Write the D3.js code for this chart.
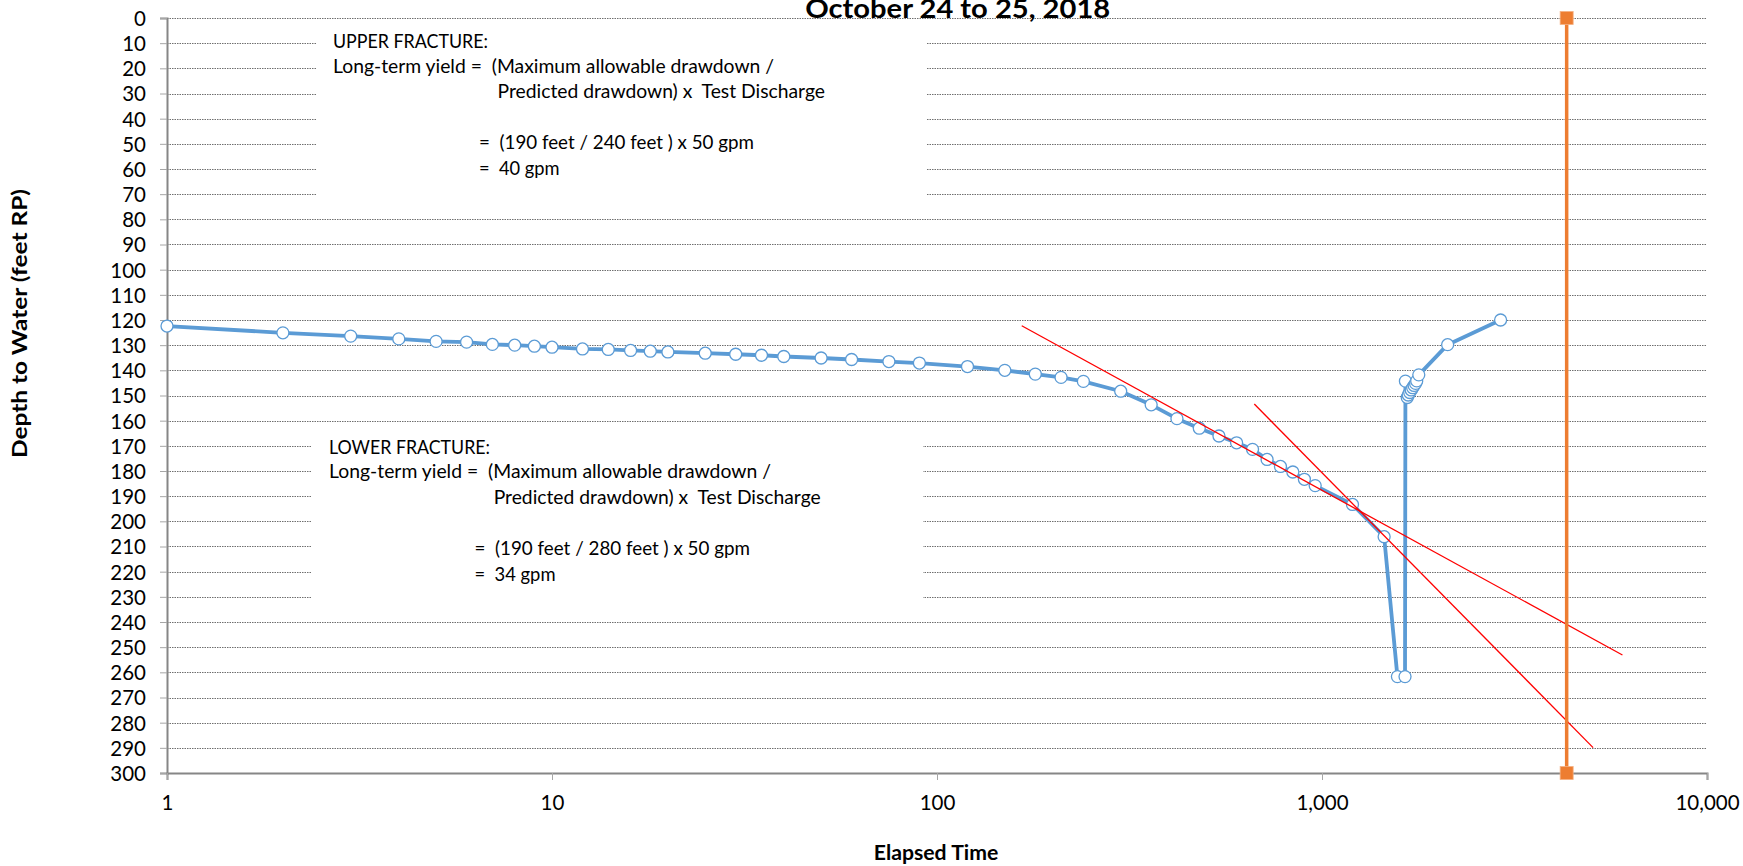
<!DOCTYPE html>
<html>
<head>
<meta charset="utf-8">
<script src="https://cdn.jsdelivr.net/npm/d3@7"></script>
<style>
  html, body { margin: 0; padding: 0; background: #fff; }
  svg { display: block; }
  text { font-family: Lato, "Open Sans", sans-serif; fill: #000; white-space: pre; }
</style>
</head>
<body>
<svg id="chart" width="1743" height="866"></svg>
<script>
// ---------- DATA ----------
const elapsedMin = [1,2,3,4,5,6,7,8,9,10,12,14,16,18,20,25,30,35,40,50,60,75,90,120,150,180,210,240,300,360,420,480,540,600,660,720,780,840,900,960,1200,1450,1570,1643,
  1647,1665,1675,1690,1705,1720,1735,1750,1762,1784,2120,2910];
const depthFt = [122.4,125.1,126.4,127.5,128.5,128.8,129.7,130.0,130.4,130.8,131.5,131.7,132.1,132.4,132.7,133.2,133.6,134.0,134.5,135.1,135.7,136.5,137.1,138.5,140.0,141.5,142.8,144.4,148.3,153.7,159.2,163.0,166.1,168.8,171.4,175.4,178.2,180.4,183.3,185.8,193.3,206.1,261.7,261.7,
  144.3,150.8,149.8,148.8,147.8,146.9,146.0,145.2,144.2,141.8,129.8,120.0];

const upperTrendTime = [166, 6030];
const upperTrendDepth = [122.3, 253.1];
const lowerTrendTime = [667, 5060];
const lowerTrendDepth = [153.4, 289.9];

const limitTime = [4320, 4320];
const limitDepth = [0, 300];

const xTicks = [1, 10, 100, 1000, 10000];
const yTicks = d3.range(0, 301, 10);

const titleText = "October 24 to 25, 2018";
const xTitle = "Elapsed Time";
const yTitle = "Depth to Water (feet RP)";

const upperNote = ["UPPER FRACTURE:", "Long-term yield =  (Maximum allowable drawdown /", "Predicted drawdown) x  Test Discharge", "=  (190 feet / 240 feet ) x 50 gpm", "=  40 gpm"];
const lowerNote = ["LOWER FRACTURE:", "Long-term yield =  (Maximum allowable drawdown /", "Predicted drawdown) x  Test Discharge", "=  (190 feet / 280 feet ) x 50 gpm", "=  34 gpm"];

// ---------- LAYOUT ----------
const svg = d3.select("#chart");
const x = d3.scaleLog().domain([1, 10000]).range([167, 1707]);
const y = d3.scaleLinear().domain([0, 300]).range([18, 773]);

// gridlines
svg.append("g").selectAll("line")
  .data(yTicks.filter(v => v < 300))
  .join("line")
  .attr("x1", x(1)).attr("x2", x(10000))
  .attr("y1", d => Math.round(y(d)) + 0.5).attr("y2", d => Math.round(y(d)) + 0.5)
  .attr("stroke", "#6f6f6f").attr("stroke-width", 1).attr("stroke-dasharray", "1.5,1");

// white note boxes
svg.append("rect").attr("x", 316).attr("y", 26).attr("width", 611).attr("height", 182).attr("fill", "#fff");
svg.append("rect").attr("x", 312).attr("y", 430).attr("width", 611).attr("height", 180).attr("fill", "#fff");

// notes
function note(lines, baseY, widths, xs) {
  const g = svg.append("g").attr("font-size", 19);
  const offs = [0, 24.4, 50, 100.7, 126.7];
  lines.forEach((t, i) => {
    g.append("text").attr("x", xs[i]).attr("y", baseY + offs[i])
      .attr("textLength", widths[i]).attr("lengthAdjust", "spacingAndGlyphs")
      .text(t);
  });
}
note(upperNote, 48.3, [155, 441, 327.5, 275, 80.5], [333, 333, 497.5, 479, 479]);
note(lowerNote, 454, [161, 442, 327, 275.5, 81], [329, 329, 493.7, 474.5, 474.5]);

// axes
const yAxis = d3.axisLeft(y).tickValues(yTicks).tickSize(7).tickPadding(14).tickFormat(d3.format("d"));
const gy = svg.append("g").attr("transform", `translate(${x(1)},0)`).call(yAxis);
gy.select(".domain").attr("stroke", "#868686").attr("stroke-width", 2);
gy.selectAll(".tick line").attr("stroke", "#a6a6a6");
gy.selectAll(".tick text").attr("font-size", 20.5).attr("font-family", "Lato").attr("fill", "#000").attr("dy", "0.36em");

const xAxis = d3.axisBottom(x).tickValues(xTicks).tickSize(7).tickFormat(d3.format(","));
const gx = svg.append("g").attr("transform", `translate(0,${y(300)})`).call(xAxis);
gx.select(".domain").attr("stroke", "#868686").attr("stroke-width", 2);
gx.selectAll(".tick line").attr("stroke", "#a6a6a6");
gx.selectAll(".tick text").attr("font-size", 20.5).attr("font-family", "Lato").attr("fill", "#000").attr("y", 37).attr("dy", 0);

// data series
const pts = elapsedMin.map((t, i) => [t, depthFt[i]]);
const line = d3.line().x(d => x(d[0])).y(d => y(d[1]));
svg.append("path").datum(pts).attr("d", line)
  .attr("fill", "none").attr("stroke", "#5B9BD5").attr("stroke-width", 3.8).attr("stroke-linejoin", "round");
svg.append("g").selectAll("circle").data(pts).join("circle")
  .attr("cx", d => x(d[0])).attr("cy", d => y(d[1])).attr("r", 6)
  .attr("fill", "#fff").attr("stroke", "#5B9BD5").attr("stroke-width", 1.3);

// trend lines
[[upperTrendTime, upperTrendDepth], [lowerTrendTime, lowerTrendDepth]].forEach(([ts, ds]) => {
  svg.append("path").datum(ts.map((t, i) => [t, ds[i]])).attr("d", line)
    .attr("fill", "none").attr("stroke", "#FF0000").attr("stroke-width", 1.3);
});

// 3-day limit line
const lim = limitTime.map((t, i) => [t, limitDepth[i]]);
svg.append("path").datum(lim).attr("d", line)
  .attr("fill", "none").attr("stroke", "#ED7D31").attr("stroke-width", 3.5);
svg.append("g").selectAll("rect").data(lim).join("rect")
  .attr("x", d => x(d[0]) - 6.5).attr("y", d => y(d[1]) - 6.5).attr("width", 13).attr("height", 13)
  .attr("fill", "#ED7D31").attr("stroke", "#F4B183").attr("stroke-width", 0.8);

// titles
svg.append("text").attr("x", 957.7).attr("y", 17.5).attr("text-anchor", "middle")
  .attr("font-size", 27).attr("font-weight", "bold")
  .attr("textLength", 305).attr("lengthAdjust", "spacingAndGlyphs").text(titleText);
svg.append("text").attr("x", 936).attr("y", 860).attr("text-anchor", "middle")
  .attr("font-size", 20).attr("font-weight", "bold")
  .attr("textLength", 124.5).attr("lengthAdjust", "spacingAndGlyphs").text(xTitle);
svg.append("text").attr("transform", "translate(27,323.5) rotate(-90)").attr("text-anchor", "middle")
  .attr("font-size", 20).attr("font-weight", "bold")
  .attr("textLength", 269).attr("lengthAdjust", "spacingAndGlyphs").text(yTitle);
</script>
</body>
</html>
